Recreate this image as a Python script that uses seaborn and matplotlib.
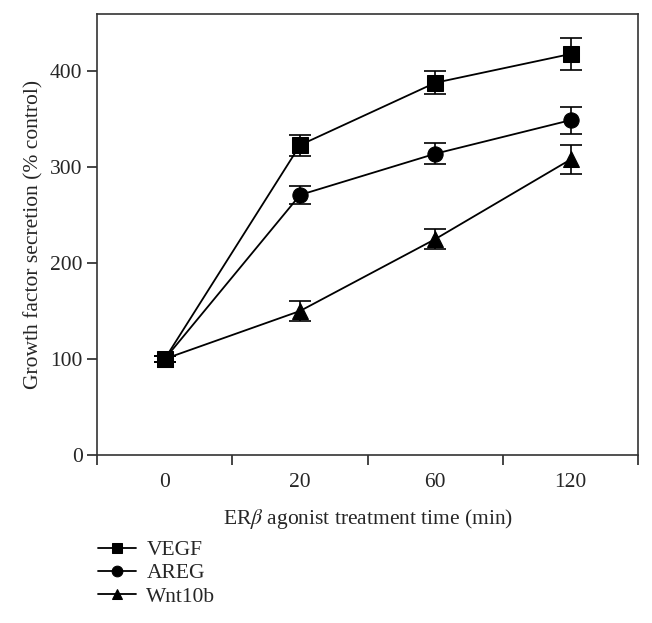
import numpy as np
import pandas as pd
import matplotlib
matplotlib.use("Agg")
import matplotlib.pyplot as plt
import seaborn as sns

TIMES = ["0", "20", "60", "120"]
SERIES = ["VEGF", "AREG", "Wnt10b"]

vegf_mean = [100, 323, 388, 418]
vegf_err = [3, 11, 12, 17]
areg_mean = [100, 271, 314, 349]
areg_err = [3, 9, 11, 14]
wnt_mean = [100, 150, 225, 308]
wnt_err = [3, 10, 10, 15]

MARKERS = {"VEGF": "s", "AREG": "o", "Wnt10b": "^"}

sns.set_theme(style="ticks")
plt.rcParams["font.family"] = ["Liberation Serif", "DejaVu Serif"]
plt.rcParams["mathtext.fontset"] = "stix"

means = {"VEGF": vegf_mean, "AREG": areg_mean, "Wnt10b": wnt_mean}
errs = {"VEGF": vegf_err, "AREG": areg_err, "Wnt10b": wnt_err}

rows = []
for name in SERIES:
    for t, m, e in zip(TIMES, means[name], errs[name]):
        rows.append({"time": t, "series": name, "value": m, "err": e})
df = pd.DataFrame(rows)

fig = plt.figure(figsize=(6.52, 6.23), dpi=100)
ax = fig.add_axes([0.149, 0.27, 0.83, 0.708])

sns.lineplot(
    data=df, x="time", y="value", style="series", markers=MARKERS,
    dashes=False, color="black", linewidth=1.3, markersize=11,
    markeredgecolor="black", ax=ax, legend=True, sort=False,
)

# error bars (mean +/- SE)
for name in SERIES:
    sub = df[df["series"] == name]
    ax.errorbar(sub["time"], sub["value"], yerr=sub["err"], fmt="none",
                ecolor="black", elinewidth=1.2, capsize=8, capthick=1.2)

ax.set_xlim(-0.5, 3.5)
ax.set_ylim(0, 460)
ax.set_yticks([0, 100, 200, 300, 400])
ax.set_xticks([-0.5, 0.5, 1.5, 2.5, 3.5])
ax.set_xticklabels([])
ax.set_xticks(range(len(TIMES)), minor=True)
ax.set_xticklabels(TIMES, minor=True)
ax.tick_params(axis="x", which="minor", length=0, pad=13, labelsize=15.5)
ax.tick_params(axis="x", which="major", length=7, width=1.2, direction="out")
ax.tick_params(axis="y", length=7, width=1.2, labelsize=15.5, direction="out")
for s in ax.spines.values():
    s.set_linewidth(1.2)
    s.set_color("#333333")

ax.set_xlabel(r"ER$\beta$ agonist treatment time (min)", fontsize=15.5, labelpad=11)
ax.set_ylabel("Growth factor secretion (% control)", fontsize=15.5, labelpad=5)

handles, labels = ax.get_legend_handles_labels()
ax.get_legend().remove()
fig.legend(handles, labels, loc="upper left", bbox_to_anchor=(0.137, 0.147),
           frameon=False, fontsize=15.5, handlelength=1.75, handletextpad=0.5,
           labelspacing=0.15, borderaxespad=0, markerscale=0.7)

fig.savefig("out.png", dpi=100)
